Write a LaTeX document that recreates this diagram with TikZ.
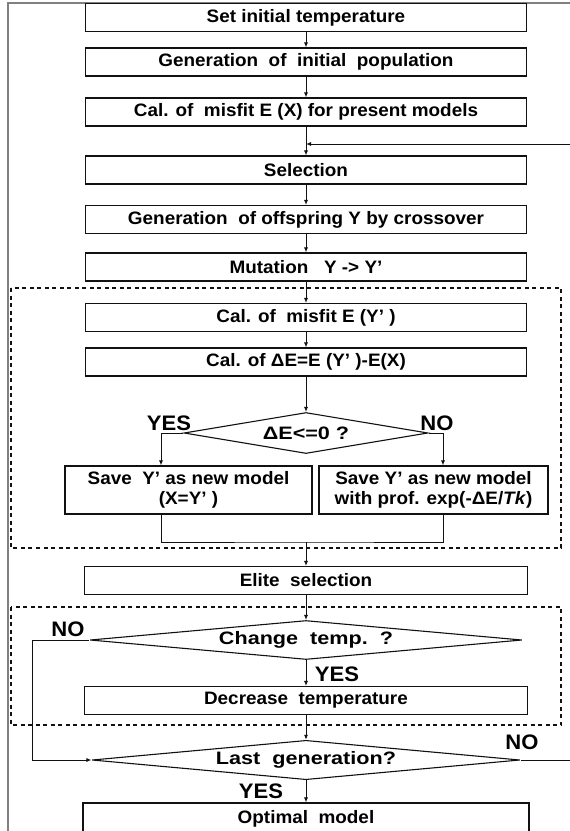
\documentclass[tikz,border=0pt]{standalone}
\usepackage{fontspec}
\setmainfont[FakeStretch=1.05]{Liberation Sans}
\newfontfamily\spread[FakeStretch=1.2]{Liberation Sans}
\usetikzlibrary{arrows.meta,shapes.geometric}
\definecolor{ink}{HTML}{111111}
\definecolor{rim}{HTML}{808080}

\begin{document}
\begin{tikzpicture}[
  x=1pt,y=-1pt,font=\bfseries\fontsize{18}{20}\selectfont,
  box/.style={draw=ink,line width=1.1pt,fill=white,align=center,
              inner sep=0pt,minimum height=28pt},
  wide/.style={box,minimum width=441pt},
  decision/.style={diamond,aspect=8,draw=ink,line width=1.1pt,fill=white,
                   inner sep=0pt,font=\spread\bfseries\fontsize{18}{20}\selectfont},
  answer/.style={font=\bfseries\fontsize{21}{22}\selectfont,inner sep=0pt},
  flow/.style={-{Latex[length=5pt,width=4pt]},line width=.9pt,draw=ink},
  link/.style={line width=.9pt,draw=ink},
  stage/.style={dash pattern=on 4pt off 3.5pt,line width=1.8pt,draw=ink},
  rim/.style={draw=rim,line width=2pt}
]
\useasboundingbox (0,0) rectangle (570,831);

% Cropped page frame.
\draw[rim] (8,831) -- (8,3) -- (570,3);

% Dashed stages: annealing acceptance and temperature update.
\draw[stage] (11,288) rectangle (561,548);
\draw[stage] (11,607) rectangle (561,725);

% Main column.
\node[wide] (init)   at (306,17.5) {Set initial temperature};
\node[wide] (pop)    at (306,62)   {Generation\ \ of\ \ initial\ \ population};
\node[wide] (misfit) at (306,112)  {Cal. of\ \ misfit E (X) for present models};
\node[wide] (select) at (306,170)  {Selection};
\node[wide] (cross)  at (306,219.5) {Generation\ \ of offspring Y by crossover};
\node[wide] (mutate) at (306,267)  {Mutation\ \ \ Y -> Y’};
\node[wide] (misfitY) at (306,317.5) {Cal. of\ \ misfit E (Y’ )};
\node[wide] (dE)     at (306,362)  {Cal. of ΔE=E (Y’ )-E(X)};

\node[decision,minimum width=244pt,minimum height=41pt]
  (cond) at (306,433) {ΔE<=0 ?};
\node[answer] (yes1) at (169,423) {YES};
\node[answer] (no1)  at (437,423) {NO};

\node[box,minimum width=247pt,minimum height=48pt]
  (saveL) at (188.5,490) {Save\ \ Y’ as new model\\(X=Y’ )};
\node[box,minimum width=229pt,minimum height=48pt]
  (saveR) at (433.5,490) {Save Y’ as new model\\with prof. exp(-ΔE/\textit{Tk})};

\node[box,minimum width=443pt] (elite) at (306,580.5) {Elite\ \ selection};

\node[decision,minimum width=432pt,minimum height=39pt]
  (change) at (306,640) {Change\ \ temp.\ \ ?};
\node[answer] (no2)  at (68,629)  {NO};
\node[answer] (yes2) at (337,674) {YES};

\node[box,minimum width=443pt] (decrease) at (306,700.5) {Decrease\ \ temperature};

\node[decision,minimum width=428pt,minimum height=39pt]
  (last) at (306,760) {Last\ \ generation?};
\node[answer] (no3)  at (522,742) {NO};
\node[answer] (yes3) at (261,791) {YES};

\node[box,minimum width=446pt,minimum height=32pt] (optimal) at (306,819) {Optimal\ \ model};

% Connectors.
\coordinate (fb) at (306,144);
\coordinate (lx) at (161,0);
\coordinate (rx) at (443,0);
\coordinate (join) at (306,542);

\draw[flow] (init) -- (pop);
\draw[flow] (pop) -- (misfit);
\draw[flow] (misfit) -- (select);
\draw[flow] (select) -- (cross);
\draw[flow] (cross) -- (mutate);
\draw[flow] (mutate) -- (misfitY);
\draw[flow] (misfitY) -- (dE);
\draw[flow] (dE) -- (cond);

\draw[flow] (cond.west) -| (saveL.north -| lx);
\draw[flow] (cond.east) -| (saveR.north -| rx);
\draw[link] (saveL.south -| lx) |- (join) -| (saveR.south -| rx);
\draw[flow] (join) -- (elite);

\draw[flow] (elite) -- (change);
\draw[flow] (change) -- (decrease);
\draw[flow] (change.west) -- ++(-57,0) |- (last.west);
\draw[flow] (decrease) -- (last);
\draw[flow] (last) -- (optimal);
\draw[flow] (last.east) -- ++(70,0) |- (fb);

\end{tikzpicture}
\end{document}
